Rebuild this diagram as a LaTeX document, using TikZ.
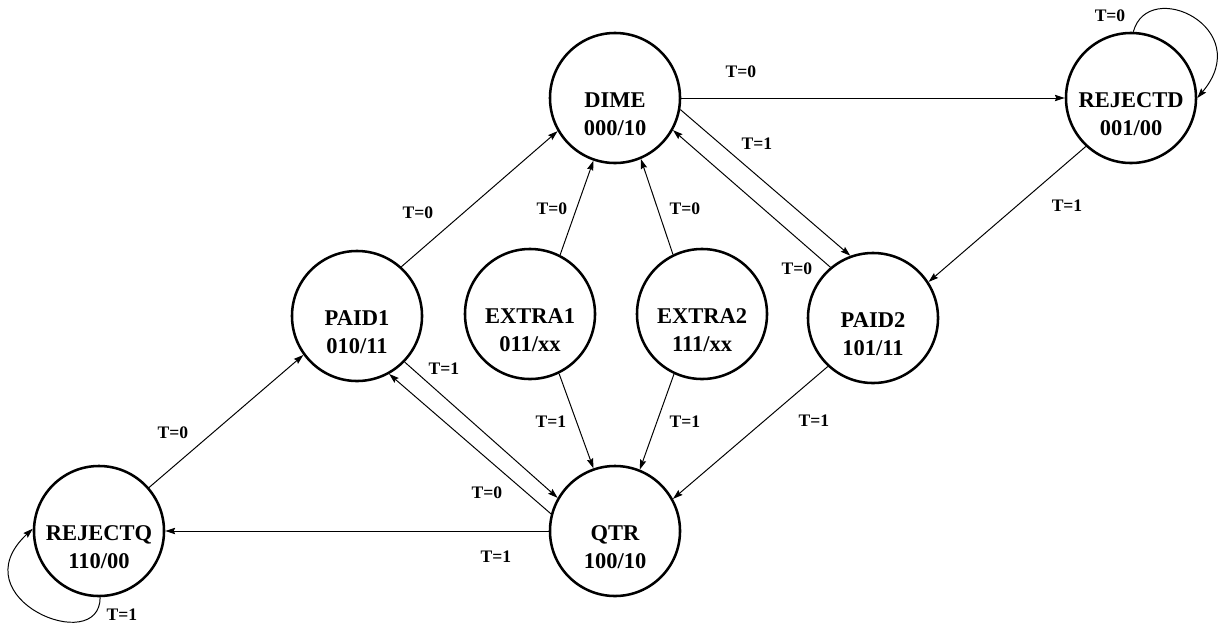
\documentclass[tikz,border=0pt]{standalone}
\usepackage{fontspec}
\setmainfont{Liberation Serif}
\usetikzlibrary{positioning}
\usetikzlibrary{arrows.meta}

\begin{document}
\begin{tikzpicture}[x=0.025cm,y=-0.025cm]
    \tikzset{state/.style = {circle, draw=black, line width=1.8pt,
                             minimum size=3.25cm, inner sep=0pt}}
    \tikzset{statetxt/.style = {align=center, yshift=-0.4cm,
                                font=\bfseries\fontsize{16}{20}\selectfont}}
    \tikzset{trans/.style = {line width=0.7pt,
                             -{Stealth[length=7pt,width=4.5pt,inset=1pt]}}}
    \tikzset{cond/.style = {inner sep=0pt, font=\bfseries\fontsize{12.5}{14}\selectfont}}

    \useasboundingbox (0,0) rectangle (1222,625);

    \node (DIME) [state, label={[statetxt, name=DIMEtxt]center:DIME\\000/10}] at (615,98) {};
    \node (REJECTD) [state, label={[statetxt, name=REJECTDtxt]center:REJECTD\\001/00}] at (1131,98) {};
    \node (PAID1) [state, label={[statetxt, name=PAID1txt]center:PAID1\\010/11}] at (357,316) {};
    \node (EXTRA1) [state, label={[statetxt, name=EXTRA1txt]center:EXTRA1\\011/xx}] at (530,314) {};
    \node (EXTRA2) [state, label={[statetxt, name=EXTRA2txt]center:EXTRA2\\111/xx}] at (702,314) {};
    \node (PAID2) [state, label={[statetxt, name=PAID2txt]center:PAID2\\101/11}] at (873,318) {};
    \node (QTR) [state, label={[statetxt, name=QTRtxt]center:QTR\\100/10}] at (615,531) {};
    \node (REJECTQ) [state, label={[statetxt, name=REJECTQtxt]center:REJECTQ\\110/00}] at (99,531) {};

    \draw[trans] (DIME) -- (REJECTD);
    \draw[trans] (REJECTD.88) .. controls +(15,-55) and +(59,-70) .. (REJECTD.0);
    \draw[trans] (REJECTD.-133) -- (PAID2.33);
    \draw[trans] (DIME.-10) -- (PAID2.110);
    \draw[trans] (PAID2.130) -- (DIME.-29);
    \draw[trans] (PAID1.48) -- (DIME.210);
    \draw[trans] (EXTRA1.63) -- (DIME.251);
    \draw[trans] (EXTRA2.116) -- (DIME.293);
    \draw[trans] (EXTRA1.-64) -- (QTR.109);
    \draw[trans] (EXTRA2.-115) -- (QTR.68);
    \draw[trans] (PAID2.227) -- (QTR.29);
    \draw[trans] (PAID1.-44) -- (QTR.150);
    \draw[trans] (QTR.165) -- (PAID1.-61);
    \draw[trans] (QTR) -- (REJECTQ);
    \draw[trans] (REJECTQ.41) -- (PAID1.216);
    \draw[trans] (REJECTQ.-89) .. controls +(0,60) and +(-75,70) .. (REJECTQ.178);

    \node (cDR) [cond] at (741,72) {T=0};
    \node (cDD) [cond] at (1110,16) {T=0};
    \node (cRP) [cond] at (1067,206) {T=1};
    \node (cDP) [cond] at (757,144) {T=1};
    \node (cPD) [cond] at (797,269) {T=0};
    \node (cP1D) [cond] at (418,213) {T=0};
    \node (cE1D) [cond] at (552,209) {T=0};
    \node (cE2D) [cond] at (685,209) {T=0};
    \node (cP1Q) [cond] at (444,369) {T=1};
    \node (cE1Q) [cond] at (551,422) {T=1};
    \node (cE2Q) [cond] at (685,422) {T=1};
    \node (cP2Q) [cond] at (814,421) {T=1};
    \node (cQP) [cond] at (487,493) {T=0};
    \node (cQR) [cond] at (496,557) {T=1};
    \node (cRQP) [cond] at (173,433) {T=0};
    \node (cQQ) [cond] at (122,615) {T=1};

\end{tikzpicture}
\end{document}
